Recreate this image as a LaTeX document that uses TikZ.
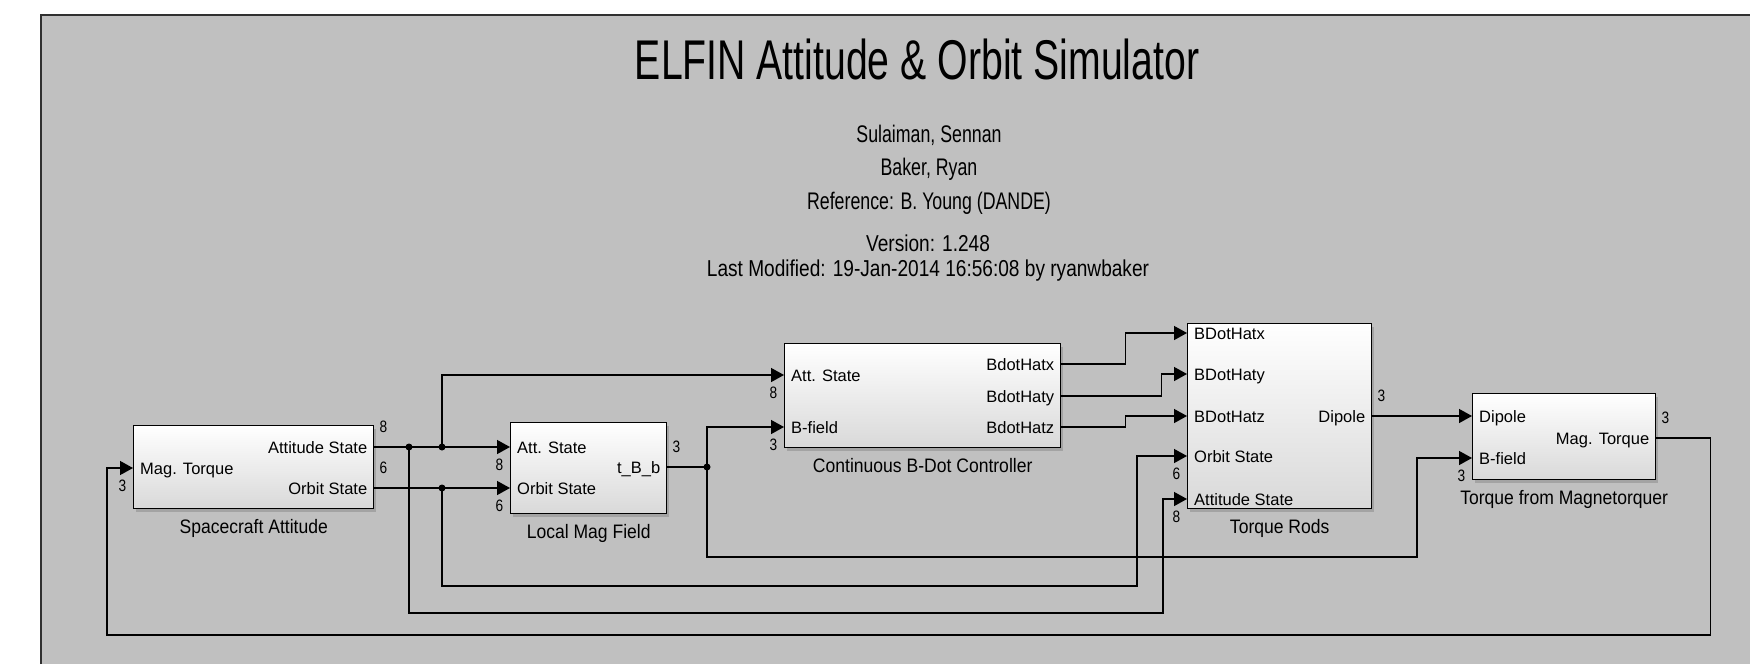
\documentclass[tikz,border=0pt]{standalone}
\usepackage{fontspec}
\setmainfont{Liberation Sans}
\newfontfamily\titlefont{Liberation Sans}[FakeStretch=0.70]
\newfontfamily\notefont{Liberation Sans}[FakeStretch=0.74]
\newfontfamily\verfont{Liberation Sans}[FakeStretch=0.83]
\newfontfamily\namefont{Liberation Sans}[FakeStretch=0.90]
\usetikzlibrary{arrows.meta, shadows}
\definecolor{simgray}{HTML}{C0C0C0}
\definecolor{framegray}{HTML}{303030}

\begin{document}
\begin{tikzpicture}[x=1pt, y=-1pt, >={Triangle[length=13pt, width=14pt]},
  simblock/.style={draw=black, line width=1.4pt, top color=white, bottom color=black!15,
    inner sep=0pt, anchor=north west,
    drop shadow={shadow xshift=2.5pt, shadow yshift=-3pt, opacity=0.45}},
  wire/.style={line width=1.4pt},
  sig/.style={wire, ->},
  junc/.style={circle, fill=black, inner sep=0pt, minimum size=7pt},
  portin/.style={anchor=base west, inner sep=0pt, xshift=7pt, yshift=-6pt, font=\fontsize{16.5}{18}\selectfont},
  portout/.style={anchor=base east, inner sep=0pt, xshift=-7pt, yshift=-6pt, font=\fontsize{16.5}{18}\selectfont},
  dimin/.style={inner sep=0pt, xshift=-10.5pt, yshift=-17.5pt, font=\verfont\fontsize{16.5}{18}\selectfont},
  dimout/.style={inner sep=0pt, xshift=9pt, yshift=20pt, font=\verfont\fontsize{16.5}{18}\selectfont},
  blockname/.style={anchor=base, inner sep=0pt, yshift=-24.5pt, font=\namefont\fontsize{19.5}{22}\selectfont},
  note/.style={anchor=base, inner sep=0pt, font=\notefont\fontsize{24}{26}\selectfont},
  vernote/.style={anchor=base, inner sep=0pt, font=\verfont\fontsize{23}{25}\selectfont}]
  \useasboundingbox (0,0) rectangle (1750,664);

  % Canvas
  \fill[white] (0,0) rectangle (1750,664);
  \fill[simgray] (41,15) rectangle (1750,664);
  \draw[framegray, line width=2pt] (41,664) -- (41,15) -- (1750,15);

  % Title and notes
  \node[anchor=base, inner sep=0pt, font=\titlefont\fontsize{56}{60}\selectfont] (title) at (917,79) {ELFIN Attitude \& Orbit Simulator};
  \node[note] (auth1) at (929,142.7) {Sulaiman, Sennan};
  \node[note] (auth2) at (929,175.7) {Baker, Ryan};
  \node[note] (refnote) at (929,209.3) {Reference: B. Young (DANDE)};
  \node[vernote] (vers) at (928,251.7) {Version: 1.248};
  \node[vernote] (modnote) at (928,276.7) {Last Modified: 19-Jan-2014 16:56:08 by ryanwbaker};

  % Blocks
  \node[simblock, minimum width=240pt, minimum height=83pt] (sc) at (133,425) {};
  \node[simblock, minimum width=156pt, minimum height=91pt] (lmf) at (510,422) {};
  \node[simblock, minimum width=276pt, minimum height=104pt] (bdot) at (784,343) {};
  \node[simblock, minimum width=184pt, minimum height=185pt] (rods) at (1187,323) {};
  \node[simblock, minimum width=183pt, minimum height=86pt] (tmag) at (1472,393) {};

  \node[blockname] (scName) at (sc.south) {Spacecraft Attitude};
  \node[blockname] (lmfName) at (lmf.south) {Local Mag Field};
  \node[blockname] (bdotName) at (bdot.south) {Continuous B-Dot Controller};
  \node[blockname] (rodsName) at (rods.south) {Torque Rods};
  \node[blockname] (tmagName) at (tmag.south) {Torque from Magnetorquer};

  % Ports
  \coordinate (scIn) at (sc.west |- 0,468);
  \coordinate (scAtt) at (sc.east |- 0,447);
  \coordinate (scOrb) at (sc.east |- 0,488);
  \coordinate (lmfAtt) at (lmf.west |- 0,447);
  \coordinate (lmfOrb) at (lmf.west |- 0,488);
  \coordinate (lmfOut) at (lmf.east |- 0,467);
  \coordinate (bdotAtt) at (bdot.west |- 0,375);
  \coordinate (bdotB) at (bdot.west |- 0,427);
  \coordinate (bdotX) at (bdot.east |- 0,364);
  \coordinate (bdotY) at (bdot.east |- 0,396);
  \coordinate (bdotZ) at (bdot.east |- 0,427);
  \foreach \p/\y in {X/333, Y/374, Z/416, Orb/456, Att/499}
    \coordinate (rods\p) at (rods.west |- 0,\y);
  \coordinate (rodsDip) at (rods.east |- 0,416);
  \coordinate (tmagDip) at (tmag.west |- 0,416);
  \coordinate (tmagB) at (tmag.west |- 0,458);
  \coordinate (tmagOut) at (tmag.east |- 0,438);

  % Branch points
  \coordinate (j1) at (409,447);
  \coordinate (j2) at (442,447);
  \coordinate (j3) at (442,488);
  \coordinate (j4) at (707,467);

  % Port labels
  \node[portin] (scInLbl) at (scIn) {Mag. Torque};
  \node[portout] (scAttLbl) at (scAtt) {Attitude State};
  \node[portout] (scOrbLbl) at (scOrb) {Orbit State};
  \node[portin] (lmfAttLbl) at (lmfAtt) {Att. State};
  \node[portin] (lmfOrbLbl) at (lmfOrb) {Orbit State};
  \node[portout] (lmfOutLbl) at (lmfOut) {t\_B\_b};
  \node[portin] (bdotAttLbl) at (bdotAtt) {Att. State};
  \node[portin] (bdotBLbl) at (bdotB) {B-field};
  \node[portout] (bdotXLbl) at (bdotX) {BdotHatx};
  \node[portout] (bdotYLbl) at (bdotY) {BdotHaty};
  \node[portout] (bdotZLbl) at (bdotZ) {BdotHatz};
  \foreach \p/\t in {X/BDotHatx, Y/BDotHaty, Z/BDotHatz, Orb/Orbit State, Att/Attitude State}
    \node[portin] (rods\p Lbl) at (rods\p) {\t};
  \node[portout] (rodsDipLbl) at (rodsDip) {Dipole};
  \node[portin] (tmagDipLbl) at (tmagDip) {Dipole};
  \node[portin] (tmagBLbl) at (tmagB) {B-field};
  \node[portout] (tmagOutLbl) at (tmagOut) {Mag. Torque};

  % Signal widths
  \node[dimin] (scInDim) at (scIn) {3};
  \node[dimout] (scAttDim) at (scAtt) {8};
  \node[dimout] (scOrbDim) at (scOrb) {6};
  \node[dimin] (lmfAttDim) at (lmfAtt) {8};
  \node[dimin] (lmfOrbDim) at (lmfOrb) {6};
  \node[dimout] (lmfOutDim) at (lmfOut) {3};
  \node[dimin] (bdotAttDim) at (bdotAtt) {8};
  \node[dimin] (bdotBDim) at (bdotB) {3};
  \node[dimin] (rodsOrbDim) at (rodsOrb) {6};
  \node[dimin] (rodsAttDim) at (rodsAtt) {8};
  \node[dimout] (rodsDipDim) at (rodsDip) {3};
  \node[dimin] (tmagBDim) at (tmagB) {3};
  \node[dimout] (tmagOutDim) at (tmagOut) {3};

  % States
  \draw[sig] (scAtt) -- (lmfAtt);
  \draw[sig] (scOrb) -- (lmfOrb);
  \draw[sig] (j2) |- (bdotAtt);
  \draw[sig] (j1) |- (1163,613) |- (rodsAtt);
  \draw[sig] (j3) |- (1137,586) |- (rodsOrb);

  % Field
  \draw[sig] (lmfOut) -- (j4) |- (bdotB);
  \draw[sig] (j4) |- (1417,557) |- (tmagB);

  % Controller to rods
  \draw[sig] (bdotX) -- ++(64,0) |- (rodsX);
  \draw[sig] (bdotY) -- ++(100,0) |- (rodsY);
  \draw[sig] (bdotZ) -- ++(64,0) |- (rodsZ);
  \draw[sig] (rodsDip) -- (tmagDip);

  % Feedback
  \draw[sig] (tmagOut) -- ++(54,0) |- (107,635) |- (scIn);

  \foreach \j in {j1, j2, j3, j4}
    \node[junc] (\j dot) at (\j) {};
\end{tikzpicture}
\end{document}
